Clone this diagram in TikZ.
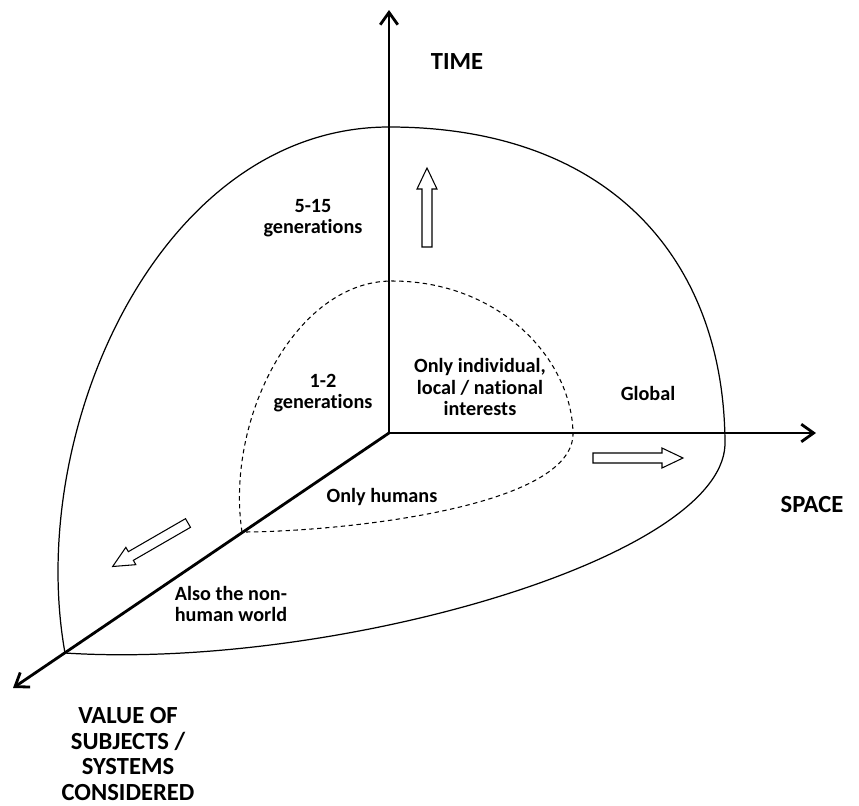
\documentclass[tikz,border=0pt]{standalone}
\usepackage{fontspec}
\setmainfont{Carlito}[Ligatures=NoCommon]
\usetikzlibrary{arrows.meta}

\begin{document}
\begin{tikzpicture}[x=0.02cm,y=-0.02cm,>={Straight Barb[length=7pt,width=10pt]}]
\tikzstyle{axis}=[line width=1.6pt]
\tikzstyle{outer}=[line width=0.7pt]
\tikzstyle{inner}=[line width=0.6pt,dash pattern=on 2.5pt off 2pt]
\tikzstyle{lbl}=[font=\fontsize{11.5}{12}\selectfont\bfseries,align=center,inner sep=0pt]
\tikzstyle{axlbl}=[font=\fontsize{14}{14.5}\selectfont\bfseries,align=center,inner sep=0pt]
\tikzset{fatarrow/.pic={\draw[line width=0.6pt] (0,-5) -- (#1-21,-5) -- (#1-21,-10) -- (#1,0) -- (#1-21,10) -- (#1-21,5) -- (0,5) -- cycle;}}
\useasboundingbox (0,0) rectangle (859,805);
\coordinate (o) at (389,433);
\coordinate (timeend) at (389,10);
\coordinate (spaceend) at (816,433);
\coordinate (valueend) at (13,688);
\draw[outer] (65,653) .. controls (25,430) and (160,127) .. (389,127)
  .. controls (610,127) and (725,260) .. (725,445)
  .. controls (720,560) and (330,670) .. (65,653);
\draw[inner] (242,532) .. controls (225,420) and (295,281) .. (392,281)
  .. controls (500,281) and (573,360) .. (573,435)
  .. controls (570,510) and (330,532) .. (242,532);
\draw[axis,->] (o) -- (timeend);
\draw[axis,->] (o) -- (spaceend);
\draw[axis,->] (o) -- (valueend);
\pic[rotate=90] at (427,247) {fatarrow=79};
\pic at (593,458) {fatarrow=90};
\pic[rotate=210] at (188,523) {fatarrow=87};
\node[lbl] (far) at (313,218) {5-15\\generations};
\node[lbl] (near) at (323,393) {1-2\\generations};
\node[lbl] (local) at (480,387) {Only individual,\\local / national\\interests};
\node[lbl] (global) at (648,393) {Global};
\node[lbl] (humans) at (382,497) {Only humans};
\node[lbl,align=left] (nonhuman) at (231,604) {Also the non-\\human world};
\node[axlbl] (time) at (457,62) {TIME};
\node[axlbl] (space) at (812,505) {SPACE};
\node[axlbl] (value) at (128,754) {VALUE OF\\SUBJECTS /\\SYSTEMS\\CONSIDERED};
\end{tikzpicture}
\end{document}
